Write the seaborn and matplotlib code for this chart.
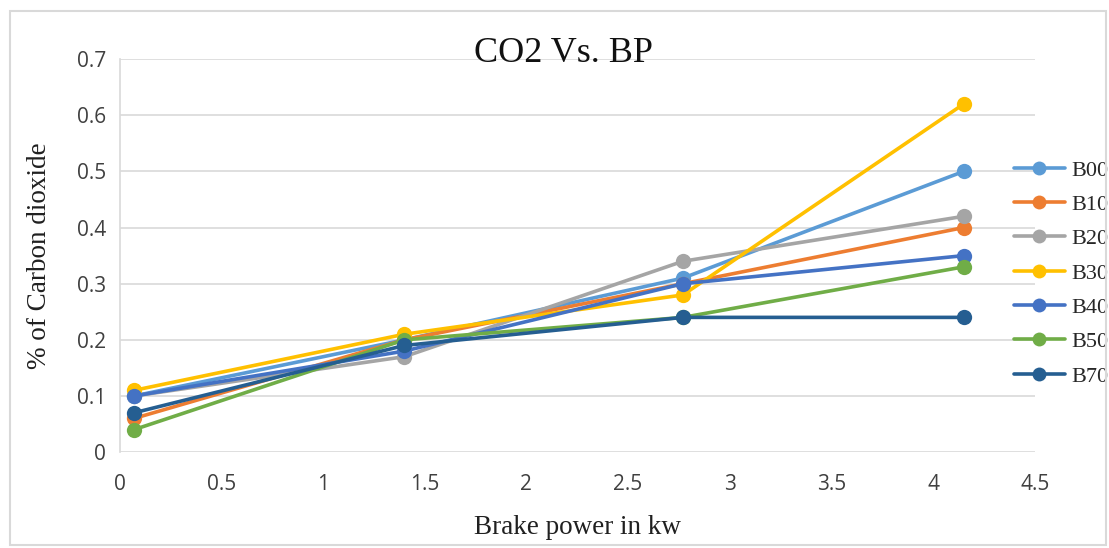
import matplotlib
matplotlib.use("Agg")
import matplotlib.pyplot as plt
import seaborn as sns
import pandas as pd

brake_power = [0.07, 1.4, 2.77, 4.15]
series_names = ["B00", "B10", "B20", "B30", "B40", "B50", "B70"]
B00 = [0.10, 0.20, 0.31, 0.50]
B10 = [0.06, 0.20, 0.30, 0.40]
B20 = [0.10, 0.17, 0.34, 0.42]
B30 = [0.11, 0.21, 0.28, 0.62]
B40 = [0.10, 0.18, 0.30, 0.35]
B50 = [0.04, 0.20, 0.24, 0.33]
B70 = [0.07, 0.19, 0.24, 0.24]
colors = ["#5B9BD5", "#ED7D31", "#A5A5A5", "#FFC000", "#4472C4", "#70AD47", "#255E91"]
x_ticks = [0, 0.5, 1, 1.5, 2, 2.5, 3, 3.5, 4, 4.5]
x_tick_labels = ["0", "0.5", "1", "1.5", "2", "2.5", "3", "3.5", "4", "4.5"]
y_ticks = [0, 0.1, 0.2, 0.3, 0.4, 0.5, 0.6, 0.7]
y_tick_labels = ["0", "0.1", "0.2", "0.3", "0.4", "0.5", "0.6", "0.7"]

values = [B00, B10, B20, B30, B40, B50, B70]
rows = []
for name, vals in zip(series_names, values):
    for x, y in zip(brake_power, vals):
        rows.append({"bp": x, "co2": y, "fuel": name})
df = pd.DataFrame(rows)

sns.set_theme(style="white")
plt.rcParams["font.family"] = ["Liberation Serif", "DejaVu Sans"]

fig = plt.figure(figsize=(11.09, 5.48), dpi=100)
ax = fig.add_axes([0.108, 0.175, 0.825, 0.717])

sns.lineplot(data=df, x="bp", y="co2", hue="fuel", hue_order=series_names,
             palette=colors, marker="o", markersize=11, linewidth=2.6,
             markeredgewidth=0, ax=ax, legend=True)

ax.set_xlim(0, 4.5)
ax.set_ylim(0, 0.7)
ax.set_xticks(x_ticks)
ax.set_xticklabels(x_tick_labels)
ax.set_yticks(y_ticks)
ax.set_yticklabels(y_tick_labels)
for lab in ax.get_yticklabels() + ax.get_xticklabels():
    lab.set_fontfamily("Open Sans")
    lab.set_fontsize(15)
    lab.set_color("#404040")
ax.tick_params(axis="y", length=0, pad=10)
ax.tick_params(axis="x", length=0, pad=16)
ax.yaxis.grid(True, color="#D9D9D9", linewidth=1.2)
ax.xaxis.grid(False)
for side in ["top", "right", "bottom"]:
    ax.spines[side].set_visible(False)
ax.spines["left"].set_color("#D9D9D9")
ax.spines["left"].set_linewidth(1.2)

ax.set_xlabel("Brake power in kw", fontsize=19.5, color="#202020", labelpad=14)
ax.set_ylabel("% of Carbon dioxide", fontsize=19.5, color="#202020", labelpad=18)
fig.text(0.508, 1 - 62 / 548, "CO2 Vs. BP", ha="center", va="baseline", fontsize=26, color="#111111")

handles, labels = ax.get_legend_handles_labels()
leg = ax.legend(handles, labels, loc="center left", bbox_to_anchor=(0.955, 0.455),
                frameon=False, fontsize=16, handlelength=2.3, labelspacing=0.62,
                handletextpad=0.3)
for h in leg.legend_handles:
    h.set_markersize(10)

fig.patches.append(matplotlib.patches.Rectangle((0.009, 0.005), 0.988, 0.975, transform=fig.transFigure,
                                                fill=False, edgecolor="#D9D9D9", linewidth=1.5))
fig.savefig("out.png", dpi=100)
